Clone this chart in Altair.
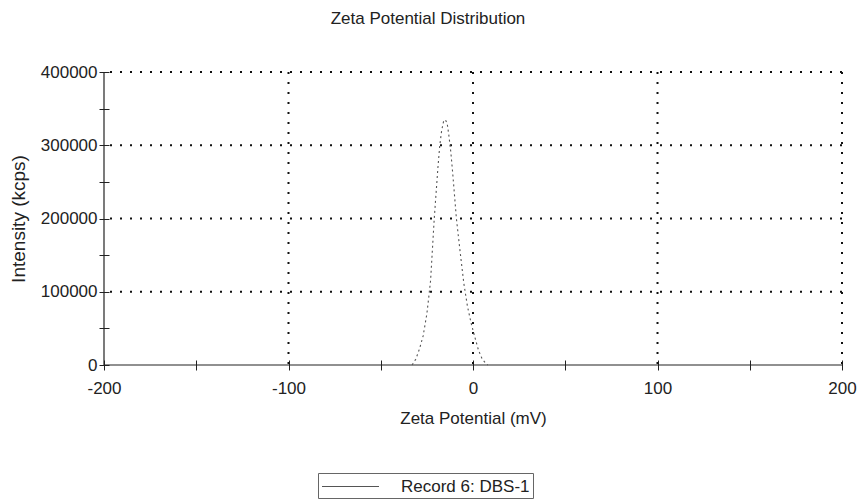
import altair as alt
import pandas as pd

# Curve (Zeta potential in mV, intensity in kcps)
zeta = [-33, -31, -29, -27, -25, -24, -23, -21, -19, -18, -17, -16, -15, -14, -13, -12,
        -11, -9, -7, -5, -3, -1, 1, 3, 5, 7, 8]
intensity = [0, 8000, 22000, 40000, 70000, 92000, 115000, 200000, 270000, 300000, 320000,
             332000, 335000, 330000, 312000, 290000, 262000, 200000, 155000, 112000, 80000,
             57000, 38000, 20000, 8000, 2000, 0]
series_name = "Record 6: DBS-1"

x_grid = [-100, 0, 100, 200]
y_grid = [100000, 200000, 300000, 400000]
x_ticks = list(range(-200, 201, 50))
y_ticks = list(range(0, 400001, 50000))

FONT = "Liberation Sans"
FS = 17

df = pd.DataFrame({"zeta": zeta, "intensity": intensity, "series": series_name})
xs = alt.Scale(domain=[-200, 200], nice=False, zero=False)
ys = alt.Scale(domain=[0, 400000], nice=False)

x_axis = alt.Axis(values=x_ticks, grid=False, domain=False, offset=-5, tickSize=10,
                  tickColor="#222", labelPadding=10, titlePadding=14, labelFlush=False,
                  labelOverlap=False,
                  labelExpr="datum.value % 100 == 0 ? '' + datum.value : ''")
y_axis = alt.Axis(values=y_ticks, grid=False, domain=False, offset=-5, tickSize=10,
                  tickColor="#222", labelPadding=2, titlePadding=12, titleFontSize=19,
                  labelFlush=False, labelOverlap=False,
                  labelExpr="datum.value % 100000 == 0 ? '' + datum.value : ''")
XT = "Zeta Potential (mV)"
YT = "Intensity (kcps)"

grid_style = dict(strokeDash=[2, 8], strokeWidth=2, color="#111")

vgrid = alt.Chart(pd.DataFrame({"x": x_grid})).mark_rule(**grid_style).encode(
    x=alt.X("x:Q", scale=xs, axis=x_axis, title=XT))
hgrid = alt.Chart(pd.DataFrame({"y": y_grid})).mark_rule(**grid_style).encode(
    y=alt.Y("y:Q", scale=ys, axis=y_axis, title=YT))
xdomain = alt.Chart(pd.DataFrame({"y": [0]})).mark_rule(color="#222", strokeWidth=1.2).encode(
    y=alt.Y("y:Q", scale=ys, axis=y_axis, title=YT))
ydomain = alt.Chart(pd.DataFrame({"x": [-200]})).mark_rule(color="#222", strokeWidth=1.2).encode(
    x=alt.X("x:Q", scale=xs, axis=x_axis, title=XT))

curve = alt.Chart(df).mark_line(strokeDash=[2, 3], strokeWidth=1.1).encode(
    x=alt.X("zeta:Q", scale=xs, title=XT, axis=x_axis),
    y=alt.Y("intensity:Q", scale=ys, title=YT, axis=y_axis),
    color=alt.Color("series:N", scale=alt.Scale(range=["#555555"]),
                    legend=alt.Legend(title=None, orient="none", legendX=214, legendY=401,
                                      symbolType="M-1,0H5", symbolSize=361, symbolStrokeWidth=1.2,
                                      symbolDash=[1, 0], labelOffset=59, labelFontSize=FS,
                                      labelFont=FONT, labelColor="#222", padding=3,
                                      strokeColor="#666", fillColor="white")),
    order="zeta:Q",
)

chart = alt.layer(vgrid, hgrid, xdomain, ydomain, curve).properties(
    width=738, height=293,
    autosize=alt.AutoSizeParams(type="none"),
    padding={"left": 104, "top": 72, "right": 16, "bottom": 135},
    title=alt.Title("Zeta Potential Distribution", fontSize=FS, fontWeight="normal",
                    font=FONT, color="#222", anchor="middle", dx=-45, offset=35),
).configure_view(stroke=None).configure_axis(
    labelFont=FONT, titleFont=FONT, labelFontSize=FS, titleFontSize=FS,
    titleFontWeight="normal", labelColor="#222", titleColor="#222",
)

chart.save("out.html", embed_options={"renderer": "svg", "actions": False})
